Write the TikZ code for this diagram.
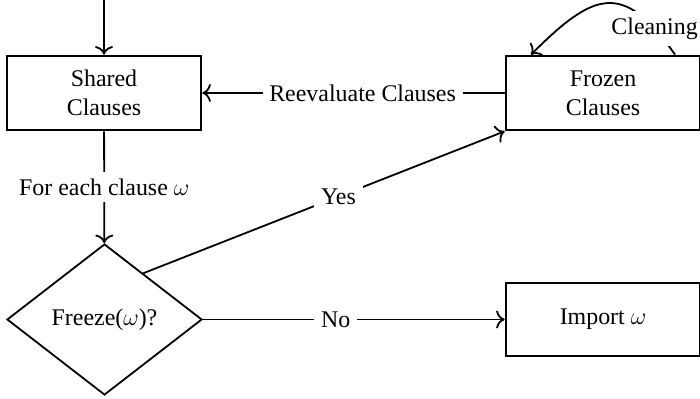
\documentclass[tikz,border=0pt]{standalone}
\usepackage{fontspec}
\setmainfont{Liberation Serif}
\usetikzlibrary{arrows.meta,positioning,shapes.geometric}

\begin{document}
\begin{tikzpicture}[x=0.5bp,y=0.5bp,
    font=\fontsize{12}{14.5}\selectfont,
    >={To[scale=1.2]},
    box/.style={draw,line width=1.3bp,minimum width=97bp,minimum height=37bp,
        align=center,inner sep=0pt},
    decision/.style={draw,diamond,line width=0.9bp,minimum width=97.5bp,
        minimum height=75.5bp,inner sep=0pt},
    flow/.style={->,line width=0.9bp},
    tag/.style={fill=white}]
    \useasboundingbox (0,0) rectangle (700,399);
    % boxes and the decision
    \node[box] (shared) at (104,306) {Shared\\Clauses};
    \node[box] (frozen) at (603,306) {Frozen\\Clauses};
    \node[decision] (freeze) at (104.5,79.5) {Freeze($\omega$)?};
    \node[box,minimum height=36.5bp] (import) at (603,79.5) {Import $\omega$};
    \coordinate (entry) at (104,399);
    % connectors
    \draw[flow] (entry) -- (shared);
    \draw[flow] (frozen) -- node[tag,pos=0.47] {Reevaluate Clauses} (shared);
    \draw[flow] (shared) -- node[tag] {For each clause $\omega$} (freeze);
    \draw[flow] (freeze.50) -- node[tag,pos=0.54] {Yes} (frozen.south west);
    \draw[flow] (freeze) -- node[tag,pos=0.44] {No} (import);
    \draw[flow] (frozen.28) to[out=125,in=45,looseness=1.6]
        node[tag,pos=0.14] {Cleaning} (frozen.152);
\end{tikzpicture}
\end{document}
